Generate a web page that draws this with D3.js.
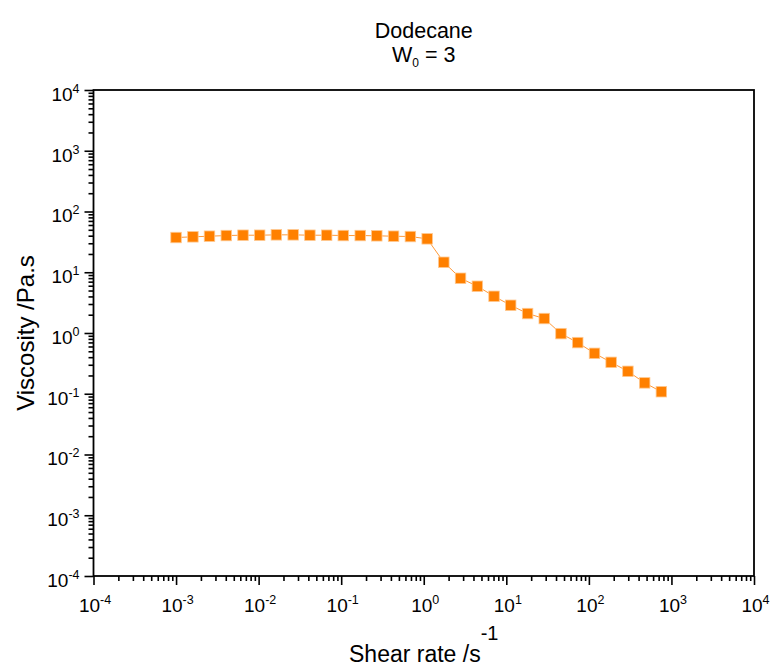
<!DOCTYPE html>
<html>
<head>
<meta charset="utf-8">
<script src="https://cdn.jsdelivr.net/npm/d3@7"></script>
<style>
  body { margin: 0; background: #fff; }
  text { font-family: "Liberation Sans", Arial, sans-serif; fill: #000; }
</style>
</head>
<body>
<div id="chart"></div>
<script>
// Shear rate (1/s) and viscosity (Pa.s)
const shearRate = [0.00100, 0.00160, 0.00254, 0.00406, 0.00647, 0.0103, 0.0164, 0.0262, 0.0418, 0.0667,
                   0.106, 0.170, 0.270, 0.431, 0.689, 1.10, 1.75, 2.79, 4.46, 7.10,
                   11.3, 18.1, 28.8, 45.9, 73.3, 117, 186, 297, 474, 755];
const viscosity = [37.3, 38.3, 39.2, 40.2, 40.7, 40.7, 41.3, 41.3, 40.7, 40.7,
                   40.2, 40.2, 39.8, 39.2, 38.7, 35.5, 14.6, 7.96, 5.88, 4.02,
                   2.86, 2.09, 1.73, 0.977, 0.695, 0.463, 0.329, 0.234, 0.151, 0.108];
const majorTicks = [1e-4, 1e-3, 1e-2, 1e-1, 1e0, 1e1, 1e2, 1e3, 1e4];

const width = 771, height = 668;
const margin = {top: 90, right: 17, bottom: 92, left: 93.5};
const plotW = width - margin.left - margin.right;
const plotH = height - margin.top - margin.bottom;

const points = shearRate.map((x, i) => ({x: x, y: viscosity[i]}));

const svg = d3.select('#chart')
    .append('svg')
    .attr('width', width)
    .attr('height', height);

const g = svg.append('g')
    .attr('transform', `translate(${margin.left},${margin.top})`);

let xScale = d3.scaleLog().domain([1e-4, 1e4]).range([0, plotW]);
let yScale = d3.scaleLog().domain([1e-4, 1e4]).range([plotH, 0]);

const isMajor = v => majorTicks.some(m => Math.abs(v / m - 1) < 1e-6);
const minorX = xScale.ticks().filter(v => !isMajor(v));
const minorY = yScale.ticks().filter(v => !isMajor(v));

// minor ticks
g.append('g')
    .attr('class', 'axis')
    .attr('transform', `translate(0,${plotH})`)
    .call(d3.axisBottom(xScale).tickValues(minorX).tickSize(5).tickFormat(''));
g.append('g')
    .attr('class', 'axis')
    .call(d3.axisLeft(yScale).tickValues(minorY).tickSize(5).tickFormat(''));

// major ticks
let xAxis = g.append('g')
    .attr('class', 'axis')
    .attr('transform', `translate(0,${plotH})`)
    .call(d3.axisBottom(xScale).tickValues(majorTicks).tickSize(9).tickPadding(14));
let yAxis = g.append('g')
    .attr('class', 'axis')
    .call(d3.axisLeft(yScale).tickValues(majorTicks).tickSize(9).tickPadding(5));

g.selectAll('.axis path.domain').remove();
g.selectAll('.axis line').attr('stroke', '#000').attr('stroke-width', 1.6);

// power-of-ten labels
function powerLabel(sel) {
    sel.each(function(d) {
        const t = d3.select(this);
        const e = Math.round(Math.log10(d));
        t.text(null)
            .attr('fill', '#000')
            .style('font-size', '19px');
        t.append('tspan').text('10');
        t.append('tspan')
            .attr('dy', '-8')
            .style('font-size', '12.5px')
            .text(e);
    });
}
xAxis.selectAll('text').call(powerLabel).attr('text-anchor', 'middle').attr('dx', 1);
yAxis.selectAll('text').call(powerLabel).attr('dy', '0.55em');

// frame
g.append('rect')
    .attr('x', 0)
    .attr('y', 0)
    .attr('width', plotW)
    .attr('height', plotH)
    .attr('fill', 'none')
    .attr('stroke', '#000')
    .attr('stroke-width', 1.8);

// data line
const line = d3.line()
    .x(d => xScale(d.x))
    .y(d => yScale(d.y));

g.append('path')
    .datum(points)
    .attr('d', line)
    .attr('fill', 'none')
    .attr('stroke', '#ff9a3a')
    .attr('stroke-width', 1);

const size = 10.5;
g.selectAll('.marker')
    .data(points)
    .enter()
    .append('rect')
    .attr('class', 'marker')
    .attr('x', d => xScale(d.x) - size / 2)
    .attr('y', d => yScale(d.y) - size / 2)
    .attr('width', size)
    .attr('height', size)
    .attr('fill', '#ff8000')
    .attr('stroke', '#ffc890')
    .attr('stroke-width', 0.8);

// titles
svg.append('text')
    .attr('x', margin.left + plotW / 2)
    .attr('y', 38)
    .attr('text-anchor', 'middle')
    .style('font-size', '21.5px')
    .text('Dodecane');

let sub = svg.append('text')
    .attr('x', margin.left + plotW / 2)
    .attr('y', 62)
    .attr('text-anchor', 'middle')
    .style('font-size', '21.5px');
sub.append('tspan').text('W');
sub.append('tspan').attr('dy', 5).style('font-size', '12px').text('0');
sub.append('tspan').attr('dy', -5).text(' = 3');

// axis titles
let xTitle = svg.append('text')
    .attr('x', margin.left + plotW / 2)
    .attr('y', 662)
    .attr('text-anchor', 'middle')
    .style('font-size', '23px');
xTitle.append('tspan').text('Shear rate /s');
xTitle.append('tspan').attr('dy', -22).style('font-size', '20px').text('-1');

svg.append('text')
    .attr('transform', `translate(34,${margin.top + plotH / 2}) rotate(-90)`)
    .attr('text-anchor', 'middle')
    .style('font-size', '24px')
    .text('Viscosity /Pa.s');
</script>
</body>
</html>
